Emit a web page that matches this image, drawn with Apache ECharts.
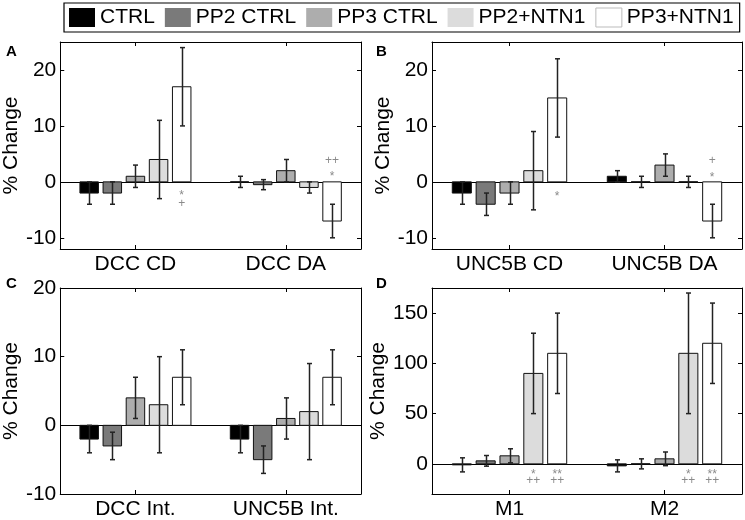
<!DOCTYPE html>
<html>
<head>
<meta charset="utf-8">
<script src="https://cdn.jsdelivr.net/npm/echarts@6/dist/echarts.min.js"></script>
<style>
html,body{margin:0;padding:0;background:#fff;}
#chart{width:745px;height:520px;}
</style>
</head>
<body>
<div id="chart"></div>
<script>
// ---------- data ----------
const conditions = ['CTRL', 'PP2 CTRL', 'PP3 CTRL', 'PP2+NTN1', 'PP3+NTN1'];

// Panel A
const catsA = ['DCC CD', 'DCC DA'];
const meansA = [[-2, 0], [-2, -0.5], [1, 2], [4, -1], [17, -7]];   // per condition: [cat1, cat2]
const errsA  = [[2, 1], [2, 0.9], [2, 2], [7, 1], [7, 3]];
const marksA = [[0, 4, -1.9, '*'], [0, 4, -3.9, '+'], [1, 4, 3.8, '++'], [1, 4, 1.5, '*']];
const ticksA = [-10, 0, 10, 20];

// Panel B
const catsB = ['UNC5B CD', 'UNC5B DA'];
const meansB = [[-2, 1], [-4, 0], [-2, 3], [2, 0], [15, -7]];
const errsB  = [[2, 1], [2, 1], [2, 2], [7, 1], [7, 3]];
const marksB = [[0, 4, -2.1, '*'], [1, 4, 3.8, '+'], [1, 4, 1.3, '*']];
const ticksB = [-10, 0, 10, 20];

// Panel C
const catsC = ['DCC Int.', 'UNC5B Int.'];
const meansC = [[-2, -2], [-3, -5], [4, 1], [3, 2], [7, 7]];
const errsC  = [[2, 2], [2, 2], [3, 3], [7, 7], [4, 4]];
const marksC = [];
const ticksC = [-10, 0, 10, 20];

// Panel D
const catsD = ['M1', 'M2'];
const meansD = [[-1, -2], [3, 0], [8, 5], [90, 110], [110, 120]];
const errsD  = [[7, 6], [5.3, 5], [7, 6.8], [40, 60], [40, 40]];
const marksD = [[0, 3, -7.6, '*'], [0, 3, -16.8, '++'], [0, 4, -7.6, '**'], [0, 4, -16.8, '++'],
                [1, 3, -7.6, '*'], [1, 3, -16.8, '++'], [1, 4, -7.6, '**'], [1, 4, -16.8, '++']];
const ticksD = [0, 50, 100, 150];

// ---------- styling / layout ----------
const colors = ['#000000', '#7a7a7a', '#adadad', '#dcdcdc', '#ffffff'];
const FONT = 'Liberation Sans, Arial, Helvetica, sans-serif';
const BAR_STEP = 0.1538;      // matlab grouped-bar spacing (x units)
const BAR_W = 0.123;          // bar width (x units)

const panels = [
  {cats: catsA, means: meansA, errs: errsA, marks: marksA, ticks: ticksA, yMin: -12, yMax: 25,
   grid: {left: 52, top: 42, width: 309, height: 207}, nameGap: 31, letter: 'A', lx: 6, ly: 44},
  {cats: catsB, means: meansB, errs: errsB, marks: marksB, ticks: ticksB, yMin: -12, yMax: 25,
   grid: {left: 432, top: 42, width: 310, height: 207}, nameGap: 36, letter: 'B', lx: 376, ly: 44},
  {cats: catsC, means: meansC, errs: errsC, marks: marksC, ticks: ticksC, yMin: -10, yMax: 20,
   grid: {left: 52, top: 288, width: 309, height: 206}, nameGap: 31, letter: 'C', lx: 6, ly: 276},
  {cats: catsD, means: meansD, errs: errsD, marks: marksD, ticks: ticksD, yMin: -30, yMax: 175,
   grid: {left: 432, top: 288, width: 310, height: 206}, nameGap: 36, letter: 'D', lx: 376, ly: 276}
];

const grids = [], xAxes = [], yAxes = [], series = [], graphics = [];

panels.forEach((p, i) => {
  grids.push(Object.assign({show: false, containLabel: false}, p.grid));
  const tickCommon = {show: true, inside: true, length: 4, lineStyle: {color: '#000', width: 1}};
  xAxes.push({
    type: 'value', gridIndex: i, min: 0.5, max: 2.5, position: 'bottom',
    axisLine: {show: true, onZero: false, lineStyle: {color: '#000', width: 1}},
    axisTick: Object.assign({customValues: [1, 2]}, tickCommon),
    axisLabel: {customValues: [1, 2], formatter: v => p.cats[Math.round(v) - 1],
      fontSize: 21, fontFamily: FONT, color: '#000', margin: 5},
    splitLine: {show: false}
  });
  xAxes.push({
    type: 'value', gridIndex: i, min: 0.5, max: 2.5, position: 'top',
    axisLine: {show: true, onZero: false, lineStyle: {color: '#000', width: 1}},
    axisTick: Object.assign({customValues: [1, 2]}, tickCommon),
    axisLabel: {show: false}, splitLine: {show: false}
  });
  yAxes.push({
    type: 'value', gridIndex: i, min: p.yMin, max: p.yMax, position: 'left',
    axisLine: {show: true, onZero: false, lineStyle: {color: '#000', width: 1}},
    axisTick: Object.assign({customValues: p.ticks}, tickCommon),
    axisLabel: {customValues: p.ticks, fontSize: 21, fontFamily: FONT, color: '#000', margin: 4},
    splitLine: {show: false},
    name: '% Change', nameLocation: 'middle', nameGap: p.nameGap,
    nameTextStyle: {fontSize: 21, fontFamily: FONT, color: '#000'}
  });
  yAxes.push({
    type: 'value', gridIndex: i, min: p.yMin, max: p.yMax, position: 'right',
    axisLine: {show: true, onZero: false, lineStyle: {color: '#000', width: 1}},
    axisTick: Object.assign({customValues: p.ticks}, tickCommon),
    axisLabel: {show: false}, splitLine: {show: false}
  });

  conditions.forEach((name, j) => {
    const data = p.means[j].map((m, c) => [c + 1 + (j - 2) * BAR_STEP, m, p.errs[j][c]]);
    const s = {
      type: 'custom', name: name, xAxisIndex: 2 * i, yAxisIndex: 2 * i,
      itemStyle: {color: colors[j], borderColor: '#000'},
      encode: {x: 0, y: 1},
      data: data,
      z: 3,
      renderItem: (params, api) => {
        const x = api.value(0), y = api.value(1), e = api.value(2);
        const a = api.coord([x - BAR_W / 2, 0]);
        const b = api.coord([x + BAR_W / 2, y]);
        const top = api.coord([x, y + e]);
        const bot = api.coord([x, y - e]);
        const cx = Math.round(top[0]) + 0.5;
        const capW = 2.5;
        return {
          type: 'group',
          children: [
            {type: 'rect', shape: {x: Math.min(a[0], b[0]), y: Math.min(a[1], b[1]),
              width: Math.abs(b[0] - a[0]), height: Math.abs(b[1] - a[1])},
              style: {fill: colors[j], stroke: '#111', lineWidth: 1}},
            {type: 'line', shape: {x1: cx, y1: top[1], x2: cx, y2: bot[1]},
              style: {stroke: '#222', lineWidth: 1.5}},
            {type: 'line', shape: {x1: cx - capW, y1: top[1], x2: cx + capW, y2: top[1]},
              style: {stroke: '#222', lineWidth: 1.5}},
            {type: 'line', shape: {x1: cx - capW, y1: bot[1], x2: cx + capW, y2: bot[1]},
              style: {stroke: '#222', lineWidth: 1.5}}
          ]
        };
      }
    };
    if (j === 0) {
      s.markLine = {silent: true, symbol: 'none', animation: false,
        data: [{yAxis: 0}], label: {show: false},
        lineStyle: {color: '#000', width: 1, type: 'solid'}, z: 2};
    }
    series.push(s);
  });

  if (p.marks.length) {
    series.push({
      type: 'custom', name: 'marks' + i, xAxisIndex: 2 * i, yAxisIndex: 2 * i,
      encode: {x: 0, y: 1}, z: 4, silent: true,
      data: p.marks.map(m => [m[0] + 1 + (m[1] - 2) * BAR_STEP, m[2], m[3]]),
      renderItem: (params, api) => {
        const pt = api.coord([api.value(0), api.value(1)]);
        const txt = p.marks[params.dataIndex][3];
        const isStar = txt.indexOf('*') >= 0;
        return {type: 'text', x: pt[0], y: pt[1] + (isStar ? 3 : 0),
          style: {text: txt, fill: '#8a8a8a', fontSize: 12, fontFamily: FONT,
            align: 'center', verticalAlign: 'middle'}};
      }
    });
  }

  graphics.push({type: 'text', left: p.lx, top: p.ly,
    style: {text: p.letter, fontSize: 15, fontWeight: 'bold', fontFamily: FONT, fill: '#000'}});
});

const chart = echarts.init(document.getElementById('chart'), null, {renderer: 'canvas'});
chart.setOption({
  backgroundColor: '#fff',
  animation: false,
  legend: {
    left: 64, top: 3, padding: [4, 6, 4, 5], itemGap: 10,
    itemWidth: 26, itemHeight: 19, icon: 'rect',
    borderColor: '#000', borderWidth: 1.2,
    textStyle: {fontSize: 21, fontFamily: FONT, color: '#000', padding: [0, 0, 0, 0]},
    data: conditions.map((n, j) => ({name: n,
      itemStyle: {color: colors[j], borderColor: j === 4 ? '#bbb' : colors[j], borderWidth: j === 4 ? 1 : 0}}))
  },
  grid: grids, xAxis: xAxes, yAxis: yAxes, series: series, graphic: graphics
});
</script>
</body>
</html>
